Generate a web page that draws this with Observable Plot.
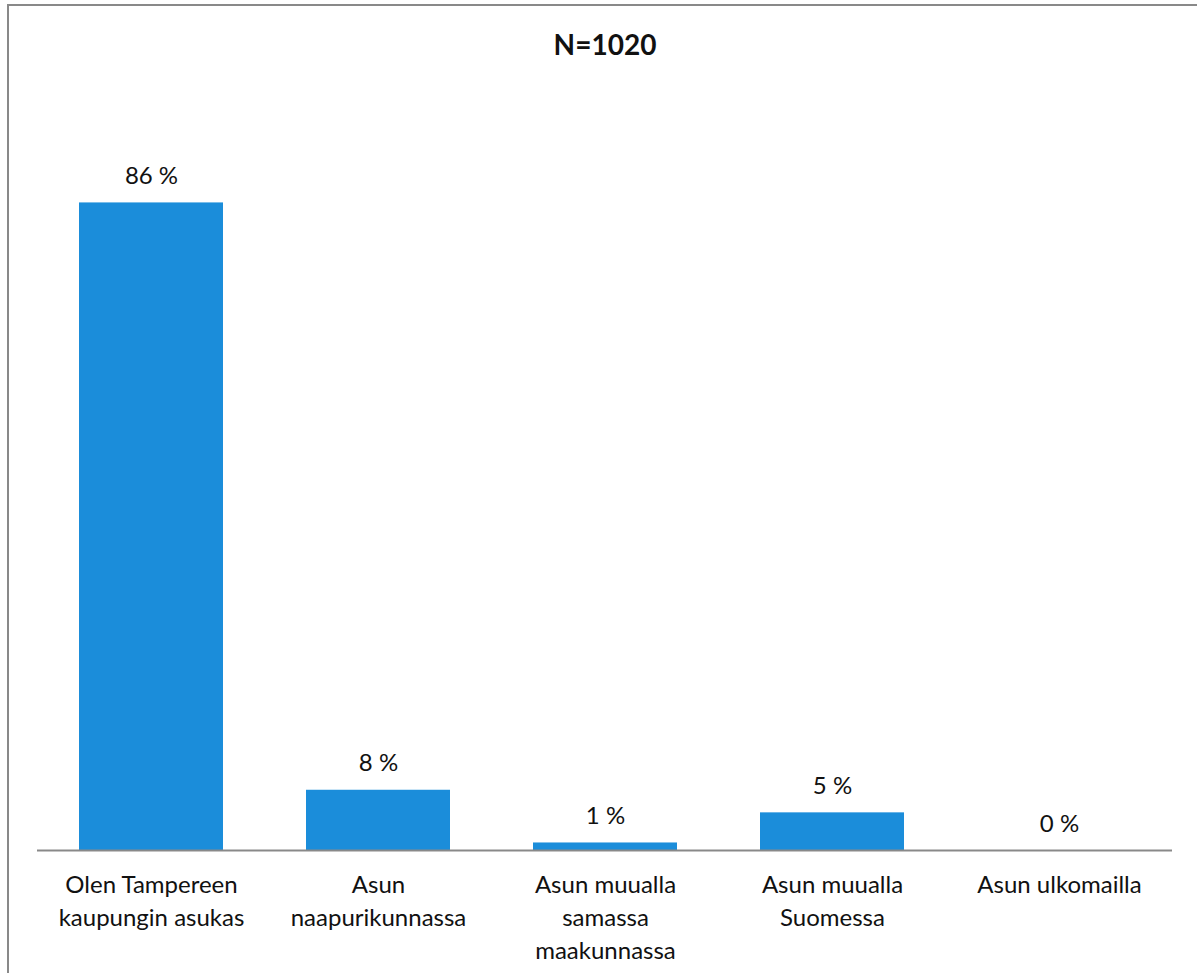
<!DOCTYPE html>
<html>
<head>
<meta charset="utf-8">
<script src="https://cdn.jsdelivr.net/npm/d3@7"></script>
<script src="https://cdn.jsdelivr.net/npm/@observablehq/plot@0.6"></script>
<style>
  html, body { margin: 0; padding: 0; background: #fff; overflow: hidden; }
  #wrap { position: relative; width: 1197px; height: 973px; overflow: hidden; }
  #frame {
    position: absolute; left: 7px; top: 4px; right: -20px; bottom: -20px;
    border-top: 2px solid #898989; border-left: 2px solid #898989;
    pointer-events: none;
  }
  #chart { position: absolute; left: 0; top: 0; }
</style>
</head>
<body>
<div id="wrap">
  <div id="chart"></div>
  <div id="frame"></div>
</div>
<script>
// Where respondents live (share of answers, %)
const title = "N=1020";
const categories = [
  "Olen Tampereen\nkaupungin asukas",
  "Asun\nnaapurikunnassa",
  "Asun muualla\nsamassa\nmaakunnassa",
  "Asun muualla\nSuomessa",
  "Asun ulkomailla"
];
const values = [86, 8, 1, 5, 0];

const rows = categories.map((c, i) => ({category: c, value: values[i]}));

const font = "Lato, 'Open Sans', sans-serif";
const barColor = "#1b8dda";

const chart = Plot.plot({
  width: 1197,
  height: 973,
  marginLeft: 37,
  marginRight: 25,
  marginTop: 97,
  marginBottom: 123,
  style: {fontFamily: font, background: "transparent"},
  x: {type: "band", domain: categories, paddingInner: 0.366, paddingOuter: 0.183, axis: null},
  y: {domain: [0, 100], axis: null},
  marks: [
    Plot.barY(rows, {x: "category", y: "value", fill: barColor}),
    Plot.ruleY([0], {stroke: "#898989", strokeWidth: 2}),
    Plot.text(rows, {
      x: "category", y: "value", text: d => `${d.value} %`,
      lineAnchor: "bottom", dy: -19, fontSize: 24, fill: "#111"
    }),
    Plot.text(rows, {
      x: "category", y: () => 0, text: "category",
      lineAnchor: "top", lineHeight: 1.375, dy: 18.6, fontSize: 24, fill: "#111"
    }),
    Plot.text([title], {
      frameAnchor: "top", lineAnchor: "bottom", dy: -42.7,
      fontSize: 28, fontWeight: "bold", fill: "#111"
    })
  ]
});

document.getElementById("chart").appendChild(chart);
</script>
</body>
</html>
